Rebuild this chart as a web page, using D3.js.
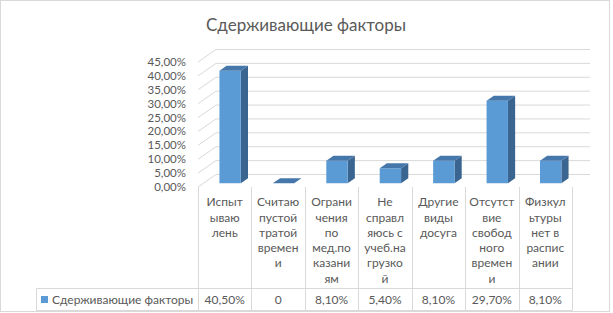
<!DOCTYPE html>
<html>
<head>
<meta charset="utf-8">
<script src="https://cdn.jsdelivr.net/npm/d3@7"></script>
<style>
  body { margin: 0; background: #fff; }
  svg { display: block; }
</style>
</head>
<body>
<div id="chart"></div>
<script>
// категории (подписи уже разбиты по строкам, как в Excel)
let categories = ["Испытываю лень", "Считаю пустой тратой времени", "Ограничения по мед.показаниям",
  "Не справляюсь с учеб.нагрузкой", "Другие виды досуга", "Отсутствие свободного времени",
  "Физкультуры нет в расписании"];
let categoryLines = [
  ["Испыт", "ываю", "лень"],
  ["Считаю", "пустой", "тратой", "времен", "и"],
  ["Ограни", "чения", "по", "мед.по", "казани", "ям"],
  ["Не", "справл", "яюсь с", "учеб.на", "грузко", "й"],
  ["Другие", "виды", "досуга"],
  ["Отсутст", "вие", "свобод", "ного", "времен", "и"],
  ["Физкул", "ьтуры", "нет в", "распис", "ании"]
];
let values = [40.5, 0, 8.1, 5.4, 8.1, 29.7, 8.1];
let tickValues = [0, 5, 10, 15, 20, 25, 30, 35, 40, 45];
let seriesName = "Сдерживающие факторы";
let title = "Сдерживающие факторы";

let width = 613, height = 313;
let DX = 18, DY = -12.5; // смещение глубины (псевдо 3D)
let font = "Lato, 'Open Sans', sans-serif";
let textColor = "#595959";
let gridColor = "#d9d9d9";

let x = d3.scaleBand()
  .domain(categories)
  .range([198, 572])
  .paddingInner(0)
  .paddingOuter(0);

let y = d3.scaleLinear()
  .domain([0, 45])
  .range([187, 62]);

let pct = v => v.toFixed(2).replace('.', ',') + '%';
let cellText = v => v === 0 ? "0" : pct(v);

let proj = (px, py, depth) => [px + depth * DX, py + depth * DY];

function chart() {
  const svg = d3.select('#chart').append('svg')
    .attr('width', width)
    .attr('height', height)
    .style('font-family', font);

  // рамка диаграммы
  svg.append('rect')
    .attr('x', 0.5).attr('y', 0.5)
    .attr('width', 609).attr('height', 311)
    .attr('fill', '#fff')
    .attr('stroke', gridColor);

  svg.append('text')
    .attr('x', 306).attr('y', 25)
    .attr('text-anchor', 'middle')
    .attr('dy', '0.35em')
    .attr('fill', textColor)
    .style('font-size', '17px')
    .text(title);

  // сетка: боковая стенка + задняя стенка
  const x0 = x.range()[0], x1 = x.range()[1];
  const grid = svg.append('g').attr('stroke', gridColor).attr('fill', 'none');
  tickValues.forEach(v => {
    const a = proj(x0, y(v), 0), b = proj(x0, y(v), 1), c = proj(x1, y(v), 1);
    grid.append('path').attr('d', `M${a}L${b}L${c}`);
  });

  // подписи оси Y
  svg.append('g')
    .selectAll('text')
    .data(tickValues)
    .enter().append('text')
      .attr('x', 186)
      .attr('y', d => y(d))
      .attr('dy', '0.35em')
      .attr('text-anchor', 'end')
      .attr('fill', textColor)
      .style('font-size', '11.5px')
      .text(pct);

  // столбцы
  const bw = x.bandwidth() * 0.4;
  const zf = 0.3, zb = 0.7;
  const bars = svg.append('g');
  categories.forEach((c, i) => {
    const cx = x(c) + x.bandwidth() / 2;
    const l = cx - bw / 2, r = cx + bw / 2;
    const yt = y(values[i]), yb = y(0);
    const g = bars.append('g');
    const poly = pts => 'M' + pts.map(p => p.join(',')).join('L') + 'Z';
    if (values[i] > 0) {
      // правая грань
      g.append('path')
        .attr('fill', '#3b6591')
        .attr('d', poly([proj(r, yb, zf), proj(r, yb, zb), proj(r, yt, zb), proj(r, yt, zf)]));
      // передняя грань
      g.append('path')
        .attr('fill', '#5b9bd5')
        .attr('d', poly([proj(l, yb, zf), proj(r, yb, zf), proj(r, yt, zf), proj(l, yt, zf)]));
    }
    // верхняя грань
    g.append('path')
      .attr('fill', '#4677ab')
      .attr('d', poly([proj(l, yt, zf), proj(r, yt, zf), proj(r, yt, zb), proj(l, yt, zb)]));
  });

  // таблица данных
  const table = svg.append('g');
  const tTop = 187, rowTop = 288.5, tBottom = 310.5;
  const edges = categories.map(c => x(c)).concat([x1]);
  edges.forEach(ex => {
    table.append('line')
      .attr('x1', Math.round(ex) + 0.5).attr('x2', Math.round(ex) + 0.5)
      .attr('y1', tTop).attr('y2', tBottom)
      .attr('stroke', gridColor);
  });
  table.append('path')
    .attr('d', `M${x1 + 0.5},${rowTop}H36.5V${tBottom}H${x1 + 0.5}`)
    .attr('fill', 'none')
    .attr('stroke', gridColor);

  // подписи категорий
  categories.forEach((c, i) => {
    const t = table.append('text')
      .attr('text-anchor', 'middle')
      .attr('fill', textColor)
      .style('font-size', '12px');
    t.selectAll('tspan')
      .data(categoryLines[i])
      .enter().append('tspan')
        .attr('x', x(c) + x.bandwidth() / 2)
        .attr('y', (d, j) => 202 + j * 15.3)
        .attr('dy', '0.35em')
        .text(d => d);
  });

  // строка значений
  table.selectAll('text.val')
    .data(values)
    .enter().append('text')
      .attr('class', 'val')
      .attr('x', (d, i) => x(categories[i]) + x.bandwidth() / 2)
      .attr('y', 299.5)
      .attr('dy', '0.35em')
      .attr('text-anchor', 'middle')
      .attr('fill', textColor)
      .style('font-size', '12px')
      .text(cellText);

  // легенда в таблице
  table.append('rect')
    .attr('x', 41).attr('y', 296)
    .attr('width', 7).attr('height', 7)
    .attr('fill', '#5b9bd5');
  table.append('text')
    .attr('x', 52).attr('y', 299.5)
    .attr('dy', '0.35em')
    .attr('fill', textColor)
    .style('font-size', '12px')
    .text(seriesName);

  return svg.node();
}

chart();
</script>
</body>
</html>
